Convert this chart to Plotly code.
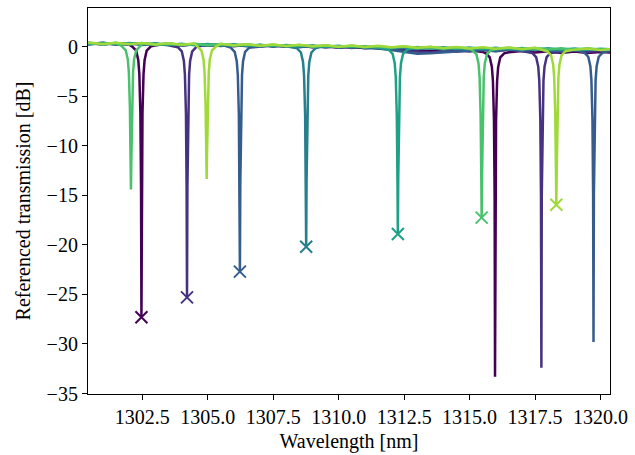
import plotly.graph_objects as go

# ---------------- data ----------------
colors = ["#440154", "#46327e", "#365c8d", "#277f8e", "#1fa187", "#4ac16d", "#a0da39"]

base_wl = [1300.43, 1301.0, 1301.5, 1302.0, 1302.5, 1303.0, 1303.5, 1304.0, 1304.5,
           1305.0, 1305.5, 1306.0, 1306.5, 1307.0, 1307.5, 1308.0, 1308.5, 1309.0,
           1309.5, 1310.0, 1310.5, 1311.0, 1311.5, 1312.0, 1312.5, 1313.0, 1313.5,
           1314.0, 1314.5, 1315.0, 1315.5, 1316.0, 1316.5, 1317.0, 1317.5, 1318.0,
           1318.5, 1319.0, 1319.5, 1320.0, 1320.36]

base_s0 = [0.36, 0.22, 0.35, 0.19, 0.31, 0.14, 0.28, 0.11, 0.25, 0.08, 0.21, 0.05, 0.18, 0.01,
           0.14, -0.02, 0.10, -0.07, 0.05, -0.12, 0.00, -0.16, -0.05, -0.22, -0.25, -0.38,
           -0.45, -0.35, -0.50, -0.37, -0.53, -0.41, -0.57, -0.44, -0.60, -0.47, -0.63, -0.50,
           -0.65, -0.53, -0.58]
base_s1 = [0.24, 0.38, 0.20, 0.34, 0.16, 0.30, 0.13, 0.27, 0.10, 0.24, 0.06, 0.20, 0.03, 0.16,
           -0.01, 0.13, -0.05, 0.09, -0.09, 0.04, -0.14, -0.02, -0.19, -0.26, -0.42, -0.52,
           -0.59, -0.46, -0.38, -0.50, -0.34, -0.47, -0.31, -0.44, -0.49, -0.35, -0.51, -0.38,
           -0.54, -0.41, -0.48]
base_s2 = [0.21, 0.34, 0.23, 0.25, 0.32, 0.15, 0.28, 0.12, 0.24, 0.09, 0.22, 0.06, 0.19, 0.03,
           0.15, 0.00, 0.12, -0.04, 0.08, -0.08, 0.04, -0.13, -0.18, -0.34, -0.56, -0.72,
           -0.66, -0.59, -0.52, -0.44, -0.31, -0.44, -0.29, -0.42, -0.26, -0.40, -0.44, -0.30,
           -0.46, -0.33, -0.40]
base_s3 = [0.39, 0.25, 0.37, 0.23, 0.34, 0.20, 0.31, 0.17, 0.27, 0.13, 0.24, 0.10, 0.21, 0.06,
           0.17, 0.03, 0.14, -0.01, 0.10, -0.05, 0.06, -0.09, 0.02, -0.14, -0.10, -0.24,
           -0.13, -0.28, -0.16, -0.31, -0.18, -0.32, -0.20, -0.34, -0.21, -0.35, -0.23, -0.36,
           -0.24, -0.34, -0.31]
base_s4 = [0.26, 0.40, 0.25, 0.36, 0.22, 0.33, 0.18, 0.30, 0.15, 0.26, 0.12, 0.23, 0.08, 0.20,
           0.05, 0.16, 0.01, 0.12, -0.02, 0.09, -0.06, 0.05, -0.10, 0.01, -0.14, -0.03,
           -0.18, -0.06, -0.21, -0.09, -0.24, -0.12, -0.26, -0.14, -0.29, -0.16, -0.30, -0.18,
           -0.32, -0.20, -0.26]
base_s5 = [0.37, 0.23, 0.38, 0.22, 0.35, 0.19, 0.32, 0.16, 0.29, 0.13, 0.26, 0.10, 0.23, 0.07,
           0.19, 0.04, 0.16, 0.00, 0.12, -0.03, 0.09, -0.07, 0.05, -0.11, 0.01, -0.15,
           -0.03, -0.19, -0.06, -0.21, -0.09, -0.24, -0.11, -0.26, -0.13, -0.28, -0.15, -0.30,
           -0.17, -0.31, -0.25]
base_s6 = [0.42, 0.27, 0.40, 0.25, 0.37, 0.22, 0.34, 0.19, 0.31, 0.16, 0.28, 0.13, 0.25, 0.10,
           0.22, 0.07, 0.18, 0.04, 0.15, 0.00, 0.11, -0.03, 0.08, -0.07, 0.04, -0.11,
           0.00, -0.15, -0.03, -0.18, -0.06, -0.21, -0.09, -0.24, -0.12, -0.27, -0.15, -0.30,
           -0.18, -0.33, -0.27]

# sample offsets (nm) around each resonance centre
dip_offsets = [-0.35, -0.2, -0.12, -0.08, -0.04, -0.015, 0.0, 0.015, 0.04, 0.08, 0.12, 0.2, 0.35]

dip_centers_s0 = [1302.47, 1315.97]
dip_values_s0 = [[0.01, -0.41, -1.36, -2.77, -6.74, -14.2, -27.3, -14.2, -6.74, -2.77, -1.36, -0.41, 0.01],
                 [-0.67, -1.09, -2.04, -3.45, -7.42, -15.1, -33.3, -15.1, -7.42, -3.45, -2.04, -1.09, -0.67]]
dip_centers_s1 = [1304.21, 1317.74]
dip_values_s1 = [[-0.05, -0.47, -1.42, -2.83, -6.80, -14.2, -25.3, -14.2, -6.80, -2.83, -1.42, -0.47, -0.05],
                 [-0.64, -1.06, -2.01, -3.42, -7.39, -15.0, -32.4, -15.0, -7.39, -3.42, -2.01, -1.06, -0.64]]
dip_centers_s2 = [1306.23, 1319.73]
dip_values_s2 = [[-0.10, -0.52, -1.47, -2.88, -6.85, -13.9, -22.7, -13.9, -6.85, -2.88, -1.47, -0.52, -0.10],
                 [-0.60, -1.02, -1.97, -3.38, -7.35, -14.9, -29.8, -14.9, -7.35, -3.38, -1.97, -1.02, -0.60]]
dip_centers_s3 = [1308.76]
dip_values_s3 = [[-0.17, -0.59, -1.54, -2.95, -6.90, -13.6, -20.2, -13.6, -6.90, -2.95, -1.54, -0.59, -0.17]]
dip_centers_s4 = [1312.26]
dip_values_s4 = [[-0.30, -0.72, -1.66, -3.06, -6.95, -13.4, -18.9, -13.4, -6.95, -3.06, -1.66, -0.72, -0.30]]
dip_centers_s5 = [1302.07, 1315.46]
dip_values_s5 = [[0.04, -0.37, -1.28, -2.61, -6.15, -11.4, -14.4, -11.4, -6.15, -2.61, -1.28, -0.37, 0.04],
                 [-0.37, -0.78, -1.70, -3.06, -6.85, -13.0, -17.25, -13.0, -6.85, -3.06, -1.70, -0.78, -0.37]]
dip_centers_s6 = [1304.96, 1318.31]
dip_values_s6 = [[0.01, -0.39, -1.29, -2.60, -6.00, -10.8, -13.35, -10.8, -6.00, -2.60, -1.29, -0.39, 0.01],
                 [-0.46, -0.87, -1.79, -3.14, -6.82, -12.6, -15.95, -12.6, -6.82, -3.14, -1.79, -0.87, -0.46]]

# detected resonance minima (x markers)
marker_wl = [1302.47, 1304.21, 1306.23, 1308.76, 1312.26, 1315.46, 1318.31]
marker_db = [-27.3, -25.3, -22.7, -20.2, -18.9, -17.25, -15.95]

x_ticks = [1302.5, 1305.0, 1307.5, 1310.0, 1312.5, 1315.0, 1317.5, 1320.0]
y_ticks = [0, -5, -10, -15, -20, -25, -30, -35]

series = [
    (base_s0, dip_centers_s0, dip_values_s0),
    (base_s1, dip_centers_s1, dip_values_s1),
    (base_s2, dip_centers_s2, dip_values_s2),
    (base_s3, dip_centers_s3, dip_values_s3),
    (base_s4, dip_centers_s4, dip_values_s4),
    (base_s5, dip_centers_s5, dip_values_s5),
    (base_s6, dip_centers_s6, dip_values_s6),
]

fig = go.Figure()
for i, (base, centers, dvals) in enumerate(series):
    pts = [(w, v) for w, v in zip(base_wl, base)
           if all(abs(w - c) > 0.36 for c in centers)]
    for c, vals in zip(centers, dvals):
        pts += [(c + o, v) for o, v in zip(dip_offsets, vals)]
    pts.sort()
    fig.add_trace(go.Scatter(x=[p[0] for p in pts], y=[p[1] for p in pts], mode="lines",
                             line=dict(color=colors[i], width=2.5), showlegend=False,
                             hoverinfo="skip"))

for i in range(len(marker_wl)):
    fig.add_trace(go.Scatter(x=[marker_wl[i]], y=[marker_db[i]], mode="markers",
                             marker=dict(symbol="x-thin", size=12,
                                         line=dict(color=colors[i], width=2)),
                             showlegend=False, hoverinfo="skip"))

font = dict(family="Liberation Serif", size=20, color="black")
fig.update_layout(
    width=635, height=455,
    margin=dict(l=88, r=23, t=7, b=59),
    paper_bgcolor="white", plot_bgcolor="white",
    font=font,
    xaxis=dict(range=[1300.43, 1320.36], tickvals=x_ticks,
               ticktext=[f"{v:.1f}" for v in x_ticks],
               showgrid=False, zeroline=False, showline=True, mirror=True,
               linecolor="black", linewidth=1.2, ticks="outside", ticklen=5,
               tickwidth=1.2, tickcolor="black", tickfont=font,
               title=dict(text="Wavelength [nm]", font=font, standoff=6)),
    yaxis=dict(range=[-35.05, 3.9], tickvals=y_ticks,
               showgrid=False, zeroline=False, showline=True, mirror=True,
               linecolor="black", linewidth=1.2, ticks="outside", ticklen=5,
               tickwidth=1.2, tickcolor="black", tickfont=font,
               title=dict(text="Referenced transmission [dB]", font=font, standoff=10)),
)

fig.write_html("out.html")
